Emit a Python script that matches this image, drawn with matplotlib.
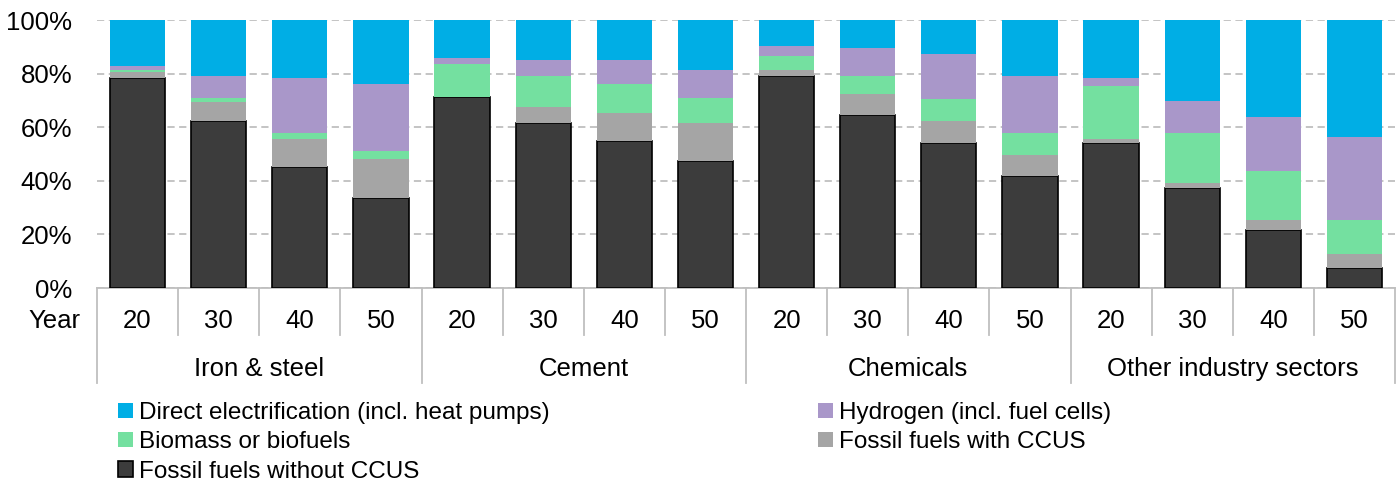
import matplotlib
matplotlib.use("Agg")
import matplotlib.pyplot as plt
import matplotlib.transforms as mtransforms
from matplotlib.patches import Patch
from matplotlib.ticker import PercentFormatter

plt.rcParams['font.family'] = ['Liberation Sans', 'DejaVu Sans']

# ---- data ----
sectors = ["Iron & steel", "Cement", "Chemicals", "Other industry sectors"]
years = ["20", "30", "40", "50"]
series_names = ["Fossil fuels without CCUS", "Fossil fuels with CCUS", "Biomass or biofuels",
                "Hydrogen (incl. fuel cells)", "Direct electrification (incl. heat pumps)"]
fossil = [78.5, 62.2, 45.3, 33.5, 71.1, 61.4, 54.9, 47.5, 79.2, 64.6, 54.2, 41.7, 54.2, 37.2, 21.6, 7.6]
ccus = [2.2, 7.3, 10.2, 14.6, 0.3, 6.0, 10.3, 13.9, 2.1, 7.9, 8.1, 7.9, 1.4, 2.0, 3.6, 5.2]
biomass = [0.6, 1.5, 2.2, 3.0, 12.2, 11.7, 11.0, 9.6, 5.3, 6.7, 8.1, 8.1, 19.9, 18.5, 18.5, 12.4]
hydrogen = [1.5, 8.1, 20.7, 25.1, 2.2, 6.0, 8.9, 10.3, 3.7, 10.4, 17.0, 21.5, 2.9, 12.0, 20.0, 31.1]
electric = [17.2, 20.9, 21.6, 23.8, 14.2, 14.9, 14.9, 18.7, 9.7, 10.4, 12.6, 20.8, 21.6, 30.3, 36.3, 43.7]

colors = ["#3C3C3C", "#A5A5A5", "#74E0A0", "#A997C9", "#00AEE5"]

W, H = 1398, 487
fig = plt.figure(figsize=(W / 100, H / 100), dpi=100)
ax_l, ax_r, ax_t, ax_b = 97, 1395, 20, 288
ax = fig.add_axes([ax_l / W, 1 - ax_b / H, (ax_r - ax_l) / W, (ax_b - ax_t) / H])

n = len(sectors) * len(years)
x = list(range(n))
series = [fossil, ccus, biomass, hydrogen, electric]
bottom = [0.0] * n
for vals, col, name in zip(series, colors, series_names):
    v = [a / 100 for a in vals]
    if col == "#3C3C3C":
        ax.bar(x, v, 0.68, bottom=bottom, color=col, edgecolor="black", linewidth=1.2, zorder=3)
    else:
        ax.bar(x, v, 0.68, bottom=bottom, color=col, linewidth=0, zorder=3)
    bottom = [b + a for b, a in zip(bottom, v)]

FS = 18.5
ax.set_xlim(-0.5, n - 0.5)
ax.set_ylim(0, 1)
ax.set_yticks([0, 0.2, 0.4, 0.6, 0.8, 1.0])
ax.yaxis.set_major_formatter(PercentFormatter(1.0, decimals=0))
ax.tick_params(axis='y', length=0, pad=18, labelsize=FS)
ax.set_xticks([])
ax.grid(axis='y', color="#BFBFBF", linestyle=(0, (4, 2.5)), linewidth=1.3, zorder=0)
ax.set_axisbelow(True)
for s in ["left", "right", "top"]:
    ax.spines[s].set_visible(False)
ax.spines["bottom"].set_color("#BFBFBF")
ax.spines["bottom"].set_linewidth(1.3)

# multi-level category axis
trans = mtransforms.blended_transform_factory(ax.transData, ax.transAxes)
hpx = ax_b - ax_t
short = -47 / hpx
long_ = -95 / hpx
for i in range(n + 1):
    xx = i - 0.5
    yb = long_ if i % len(years) == 0 else short
    ax.plot([xx, xx], [0, yb], transform=trans, color="#BFBFBF", lw=1.3, clip_on=False)
ylab = -(321 - ax_b) / hpx
ygrp = -(369 - ax_b) / hpx
for i in range(n):
    ax.text(i, ylab, years[i % len(years)], transform=trans, ha="center", va="center", fontsize=FS)
for g, name in enumerate(sectors):
    c = g * len(years) + (len(years) - 1) / 2
    ax.text(c, ygrp, name, transform=trans, ha="center", va="center", fontsize=FS)
fig.text(80 / W, 1 - 321 / H, "Year", ha="right", va="center", fontsize=FS)

# legend
def h(i):
    if i == 0:
        return Patch(facecolor=colors[0], edgecolor="black", linewidth=1.2)
    return Patch(facecolor=colors[i], edgecolor="none")

leg_kw = dict(frameon=False, fontsize=17.5, loc="upper left", borderpad=0, borderaxespad=0,
              handlelength=0.62, handleheight=0.6, handletextpad=0.25, labelspacing=0.3)
fig.legend([h(4), h(2), h(0)], [series_names[4], series_names[2], series_names[0]],
           bbox_to_anchor=(118 / W, 1 - 402 / H), **leg_kw)
fig.legend([h(3), h(1)], [series_names[3], series_names[1]],
           bbox_to_anchor=(818 / W, 1 - 402 / H), **leg_kw)

fig.savefig("out.png", dpi=100)
